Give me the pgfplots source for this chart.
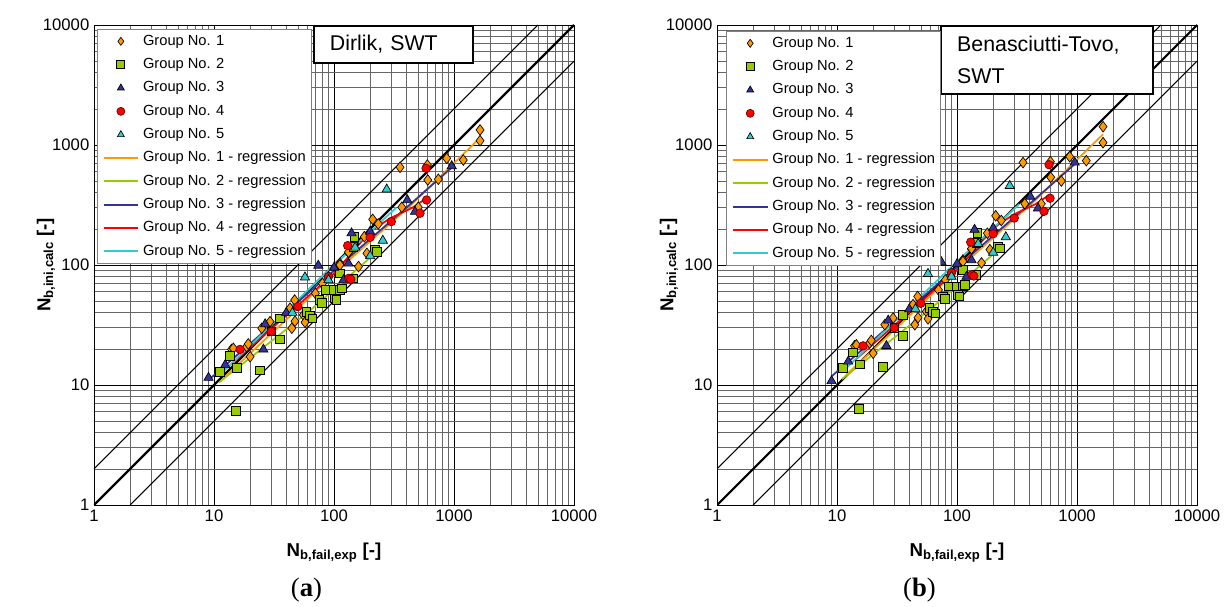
\documentclass[border=0pt]{standalone}
\usepackage{pgfplots}
\pgfplotsset{compat=1.18}
\usepackage{fontspec}
\setmainfont{Liberation Sans}
\newfontfamily\capfont{Liberation Serif}
\definecolor{c1}{HTML}{FF9900}
\definecolor{c2}{HTML}{99CC00}
\definecolor{c3}{HTML}{333399}
\definecolor{c4}{HTML}{FF0000}
\definecolor{c5}{HTML}{33CCCC}
\tikzset{
  m1/.style={only marks, mark=diamond*, mark size=4pt, mark options={fill=c1, draw=black, line width=0.5pt}},
  m2/.style={only marks, mark=square*, mark size=3.2pt, mark options={fill=c2, draw=black, line width=0.7pt}},
  m3/.style={only marks, mark=triangle*, mark size=4pt, mark options={fill=c3, draw=black, line width=0.5pt}},
  m4/.style={only marks, mark=*, mark size=3.2pt, mark options={fill=c4, draw=black!60!red, line width=0.5pt}},
  m5/.style={only marks, mark=triangle*, mark size=4pt, mark options={fill=c5, draw=black, line width=0.5pt}},
}
\begin{document}
\begin{tikzpicture}
\useasboundingbox (0,0) rectangle (919.5pt,454.5pt);
% ---------------- (a) Dirlik ----------------
\begin{axis}[at={(70.5pt,75.75pt)}, anchor=south west,
  xmode=log, ymode=log, xmin=1, xmax=10000, ymin=1, ymax=10000,
  width=360pt, height=360pt, scale only axis,
  xtick={1,10,100,1000,10000}, xticklabels={1,10,100,1000,10000},
  ytick={1,10,100,1000,10000}, yticklabels={1,10,100,1000,10000},
  minor xtick={2,3,4,5,6,7,8,9,20,30,40,50,60,70,80,90,200,300,400,500,600,700,800,900,2000,3000,4000,5000,6000,7000,8000,9000},
  minor ytick={2,3,4,5,6,7,8,9,20,30,40,50,60,70,80,90,200,300,400,500,600,700,800,900,2000,3000,4000,5000,6000,7000,8000,9000},
  grid=both,
  major grid style={black, line width=0.5pt},
  minor grid style={black!60, line width=0.5pt},
  axis line style={black, line width=0.6pt},
  major tick length=0pt, minor tick length=0pt,
  tick label style={font=\fontsize{12.5}{14}\selectfont},
  xlabel style={at={(axis description cs:0.5,-0.1)}, anchor=center, font=\fontsize{14}{16}\selectfont\bfseries},
  ylabel style={at={(axis description cs:-0.1,0.5)}, anchor=center, font=\fontsize{14}{16}\selectfont\bfseries},
  xlabel={N\textsubscript{b,fail,exp} [-]},
  ylabel={N\textsubscript{b,ini,calc} [-]},
  legend cell align=left,
  legend style={at={(0,1)}, anchor=north west, xshift=2.25pt, yshift=-3pt,
    draw=black!50, line width=0.5pt, fill=white, inner xsep=4pt, inner ysep=3.5pt,
    font=\fontsize{11}{13}\selectfont,
    nodes={inner sep=0pt, text height=8.5pt, text depth=2.5pt},
    row sep=6.5pt, column sep=3pt},
  legend image code/.code={\draw[mark repeat=2,mark phase=2,mark size=3pt,#1] plot coordinates {(0pt,0pt) (13pt,0pt) (26pt,0pt)};}]
\addplot[black, line width=1.6pt, forget plot] coordinates {(1,1) (10000,10000)};
\addplot[black, line width=0.7pt, forget plot] coordinates {(1,2) (5000,10000)};
\addplot[black, line width=0.7pt, forget plot] coordinates {(2,1) (10000,5000)};
\addplot[m1] table {
x y
14.0 19.8
14.5 20.2
18.7 20.9
19.3 22
20.0 17.2
25 29.7
29.3 33.7
43 43.6
44.5 29.7
47.3 34
47 51
55.5 38.3
57.3 33.3
70 58
80 70
90 80
112 103
112 100
132 127
132 128
150 150
160 97
179 172
188 125
210 240
234 220
355 652
367 303
504 303
600 681
604 511
740 518
869 774
1195 750
1648 1334
1648 1086
};
\addlegendentry{Group No. 1}
\addplot[m2] table {
x y
11.2 12.9
13.6 17.5
15.2 6.1
15.5 13.8
24.2 13.2
30 28
35.5 24.0
35.5 36
59 40.8
63 37.8
66 36
76 51
79 48.5
86 62
99 62
102 52.7
105 51
112 62
112 85
116 64
145 77.5
145 142
148 172
220 133
227 128
};
\addlegendentry{Group No. 2}
\addplot[m3] table {
x y
9.0 11.5
12.4 14.7
25.8 19.8
26.7 32.2
40 40
74 99
100 95
120 75
132 103
140 184
200 190
408 348
473 278
957 668
};
\addlegendentry{Group No. 3}
\addplot[m4] table {
x y
16.5 19.8
30 28
50 45
90 80
130 145
133 77.5
138 76
200 170
300 230
521 270
585 640
591 348
};
\addlegendentry{Group No. 4}
\addplot[m5] table {
x y
45 40
57.3 79
90 75
150 140
200 119
255 160
275 427
};
\addlegendentry{Group No. 5}
\addplot[c1, line width=1.3pt] coordinates {(12,11.4) (40,35) (100,85) (430,310) (1650,1150)};
\addlegendentry{Group No. 1 - regression}
\addplot[c2, line width=1.3pt] coordinates {(11,10.5) (60,40) (240,135)};
\addlegendentry{Group No. 2 - regression}
\addplot[c3, line width=1.3pt] coordinates {(9,11) (100,90) (400,300) (960,650)};
\addlegendentry{Group No. 3 - regression}
\addplot[c4, line width=1.3pt] coordinates {(14,15) (100,85) (200,190) (293,245) (450,300) (590,360)};
\addlegendentry{Group No. 4 - regression}
\addplot[c5, line width=1.3pt] coordinates {(12,13) (100,100) (330,300)};
\addlegendentry{Group No. 5 - regression}
\node[draw=black, line width=1.5pt, fill=white, anchor=north west, minimum width=108pt, minimum height=27.75pt,
  text width=95pt, align=left, inner xsep=12pt, inner ysep=0pt, font=\fontsize{16}{19}\selectfont]
  at (rel axis cs:0.456,1) {Dirlik, SWT};
\end{axis}
% ---------------- (b) Benasciutti-Tovo ----------------
\begin{axis}[at={(537.75pt,75.75pt)}, anchor=south west,
  xmode=log, ymode=log, xmin=1, xmax=10000, ymin=1, ymax=10000,
  width=360pt, height=360pt, scale only axis,
  xtick={1,10,100,1000,10000}, xticklabels={1,10,100,1000,10000},
  ytick={1,10,100,1000,10000}, yticklabels={1,10,100,1000,10000},
  minor xtick={2,3,4,5,6,7,8,9,20,30,40,50,60,70,80,90,200,300,400,500,600,700,800,900,2000,3000,4000,5000,6000,7000,8000,9000},
  minor ytick={2,3,4,5,6,7,8,9,20,30,40,50,60,70,80,90,200,300,400,500,600,700,800,900,2000,3000,4000,5000,6000,7000,8000,9000},
  grid=both,
  major grid style={black, line width=0.5pt},
  minor grid style={black!60, line width=0.5pt},
  axis line style={black, line width=0.6pt},
  major tick length=0pt, minor tick length=0pt,
  tick label style={font=\fontsize{12.5}{14}\selectfont},
  xlabel style={at={(axis description cs:0.5,-0.1)}, anchor=center, font=\fontsize{14}{16}\selectfont\bfseries},
  ylabel style={at={(axis description cs:-0.1,0.5)}, anchor=center, font=\fontsize{14}{16}\selectfont\bfseries},
  xlabel={N\textsubscript{b,fail,exp} [-]},
  ylabel={N\textsubscript{b,ini,calc} [-]},
  legend cell align=left,
  legend style={at={(0,1)}, anchor=north west, xshift=7pt, yshift=-4.5pt,
    draw=black!50, line width=0.5pt, fill=white, inner xsep=4pt, inner ysep=3.5pt,
    font=\fontsize{11}{13}\selectfont,
    nodes={inner sep=0pt, text height=8.5pt, text depth=2.5pt},
    row sep=6.5pt, column sep=3pt},
  legend image code/.code={\draw[mark repeat=2,mark phase=2,mark size=3pt,#1] plot coordinates {(0pt,0pt) (13pt,0pt) (26pt,0pt)};}]
\addplot[black, line width=1.6pt, forget plot] coordinates {(1,1) (10000,10000)};
\addplot[black, line width=0.7pt, forget plot] coordinates {(1,2) (5000,10000)};
\addplot[black, line width=0.7pt, forget plot] coordinates {(2,1) (10000,5000)};
\addplot[m1] table {
x y
14.0 21.2
14.5 21.6
18.7 22.4
19.3 23.5
20.0 18.4
25 31.8
29.3 36.1
43 46.7
44.5 31.8
47.3 36.4
47 54.6
55.5 41
57.3 35.6
70 62
80 75
90 85.6
112 110
112 107
132 136
132 137
150 160
160 104
179 184
188 134
210 257
234 235
355 713
367 324
504 324
600 726
604 538
740 501
869 799
1195 740
1648 1421
1648 1045
};
\addlegendentry{Group No. 1}
\addplot[m2] table {
x y
11.2 13.8
13.6 18.7
15.2 6.3
15.5 14.8
24.2 14.1
30 30
35.5 25.7
35.5 38.5
59 43.7
63 40.4
66 39.6
76 54.6
79 51.9
86 66.3
99 66.3
102 56.4
105 54.6
112 66.3
112 91
116 68.5
145 83
145 152
148 184
220 142
227 137
};
\addlegendentry{Group No. 2}
\addplot[m3] table {
x y
9.0 10.8
12.4 15.7
25.8 21.2
26.7 34.5
40 42.8
74 106
100 102
120 80
132 110
140 197
200 203
408 372
473 297
957 715
};
\addlegendentry{Group No. 3}
\addplot[m4] table {
x y
16.5 21.2
30 30
50 48
90 86
130 155
133 83
138 81
200 182
300 246
531 280
585 685
596 360
};
\addlegendentry{Group No. 4}
\addplot[m5] table {
x y
45 43
57.3 84.5
90 80
150 150
200 127
255 171
275 457
};
\addlegendentry{Group No. 5}
\addplot[c1, line width=1.3pt] coordinates {(12,12.2) (40,37.5) (100,91) (430,332) (1650,1230)};
\addlegendentry{Group No. 1 - regression}
\addplot[c2, line width=1.3pt] coordinates {(11,11.2) (60,43) (240,144)};
\addlegendentry{Group No. 2 - regression}
\addplot[c3, line width=1.3pt] coordinates {(9,11.8) (100,96) (400,321) (960,695)};
\addlegendentry{Group No. 3 - regression}
\addplot[c4, line width=1.3pt] coordinates {(14,16) (100,91) (200,203) (293,262) (450,321) (590,385)};
\addlegendentry{Group No. 4 - regression}
\addplot[c5, line width=1.3pt] coordinates {(12,13.9) (100,107) (330,321)};
\addlegendentry{Group No. 5 - regression}
\node[draw=black, line width=1.5pt, fill=white, anchor=north west, minimum width=147pt, minimum height=51pt,
  text width=135pt, align=left, inner xsep=12pt, inner ysep=0pt, font=\fontsize{16}{23.5}\selectfont]
  at (rel axis cs:0.465,1) {Benasciutti-Tovo,\\SWT};
\end{axis}
\node[font=\capfont\fontsize{20}{22}\selectfont] at (229.9pt,12pt) {(\textbf{a})};
\node[font=\capfont\fontsize{20}{22}\selectfont] at (689.6pt,12pt) {(\textbf{b})};
\end{tikzpicture}
\end{document}
